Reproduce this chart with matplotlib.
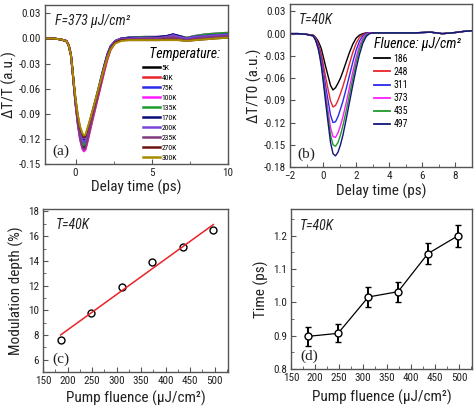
import matplotlib
matplotlib.use("Agg")
import matplotlib.pyplot as plt
import numpy as np
from matplotlib.ticker import MultipleLocator

plt.rcParams['font.family'] = ['Roboto Condensed', 'Liberation Sans', 'DejaVu Sans']

# ---------------- data ----------------
t_a = [-2, -1.5, -1, -0.6, -0.45, -0.3, -0.2, -0.1, 0, 0.15, 0.3, 0.45, 0.55, 0.65, 0.8, 0.95,
       1.1, 1.3, 1.5, 1.7, 1.9, 2.1, 2.3, 2.6, 3.0, 3.5, 4.5, 5.5, 6.0, 6.4, 6.8, 7.3, 7.8, 8.5, 9.2, 10]
temp_labels = ['5K', '40K', '75K', '100K', '135K', '170K', '200K', '235K', '270K', '300K']
temp_colors = ['#000000', '#e8232a', '#2a2ae8', '#ff1aff', '#1f9a2a', '#0a0a78', '#7a44d8',
               '#7e3a80', '#6a1410', '#a88a00']
dT_5K = [0.000, 0.000, -0.001, -0.003, -0.008, -0.020, -0.038, -0.058, -0.077, -0.100, -0.117, -0.127, -0.130, -0.128, -0.117, -0.106, -0.095, -0.081, -0.066, -0.051, -0.036, -0.022, -0.012, -0.004, -0.001, 0.000, 0.001, 0.001, 0.002, 0.003, 0.002, -0.001, 0.001, 0.003, 0.004, 0.005]
dT_40K = [0.000, 0.000, -0.001, -0.003, -0.007, -0.018, -0.036, -0.056, -0.076, -0.101, -0.119, -0.131, -0.134, -0.133, -0.123, -0.111, -0.099, -0.084, -0.069, -0.054, -0.039, -0.025, -0.014, -0.005, -0.001, 0.000, 0.001, 0.001, 0.002, 0.003, 0.002, -0.001, 0.002, 0.003, 0.004, 0.005]
dT_75K = [0.000, 0.000, -0.001, -0.003, -0.008, -0.020, -0.038, -0.057, -0.075, -0.097, -0.113, -0.122, -0.125, -0.123, -0.113, -0.102, -0.091, -0.077, -0.062, -0.047, -0.032, -0.019, -0.010, -0.003, 0.000, 0.001, 0.001, 0.002, 0.003, 0.005, 0.003, 0.000, 0.002, 0.004, 0.005, 0.006]
dT_100K = [0.000, 0.000, -0.001, -0.003, -0.008, -0.020, -0.039, -0.059, -0.079, -0.103, -0.121, -0.132, -0.135, -0.133, -0.121, -0.109, -0.097, -0.082, -0.067, -0.052, -0.037, -0.023, -0.012, -0.004, 0.000, 0.001, 0.002, 0.002, 0.003, 0.004, 0.003, 0.001, 0.003, 0.005, 0.006, 0.006]
dT_135K = [0.000, 0.000, -0.001, -0.003, -0.008, -0.020, -0.038, -0.057, -0.076, -0.098, -0.115, -0.125, -0.128, -0.126, -0.115, -0.104, -0.093, -0.079, -0.064, -0.049, -0.034, -0.021, -0.011, -0.003, 0.000, 0.001, 0.002, 0.002, 0.003, 0.004, 0.003, 0.001, 0.003, 0.005, 0.006, 0.007]
dT_170K = [0.000, 0.000, -0.001, -0.003, -0.008, -0.020, -0.037, -0.056, -0.074, -0.095, -0.110, -0.119, -0.122, -0.120, -0.110, -0.099, -0.088, -0.074, -0.060, -0.045, -0.031, -0.018, -0.009, -0.003, 0.000, 0.001, 0.001, 0.002, 0.003, 0.005, 0.003, 0.000, 0.002, 0.003, 0.004, 0.005]
dT_200K = [0.000, 0.000, -0.001, -0.003, -0.008, -0.020, -0.038, -0.057, -0.075, -0.096, -0.112, -0.121, -0.124, -0.122, -0.112, -0.101, -0.090, -0.076, -0.061, -0.046, -0.032, -0.019, -0.010, -0.003, 0.000, 0.000, 0.001, 0.001, 0.002, 0.004, 0.002, 0.000, 0.002, 0.003, 0.004, 0.005]
dT_235K = [0.000, 0.000, -0.001, -0.003, -0.008, -0.019, -0.037, -0.058, -0.078, -0.102, -0.120, -0.130, -0.133, -0.131, -0.120, -0.108, -0.096, -0.081, -0.066, -0.051, -0.036, -0.022, -0.012, -0.004, -0.001, -0.001, 0.000, 0.000, 0.001, 0.001, 0.000, -0.002, 0.000, 0.001, 0.002, 0.003]
dT_270K = [0.000, 0.000, -0.001, -0.003, -0.008, -0.020, -0.037, -0.055, -0.072, -0.092, -0.107, -0.115, -0.118, -0.117, -0.108, -0.098, -0.088, -0.075, -0.061, -0.047, -0.033, -0.021, -0.012, -0.005, -0.002, -0.002, -0.002, -0.002, -0.001, -0.001, -0.002, -0.003, -0.002, -0.001, 0.000, 0.001]
dT_300K = [0.000, 0.000, -0.001, -0.003, -0.008, -0.020, -0.037, -0.055, -0.071, -0.091, -0.105, -0.113, -0.116, -0.115, -0.106, -0.097, -0.087, -0.074, -0.060, -0.047, -0.034, -0.022, -0.013, -0.006, -0.003, -0.002, -0.002, -0.002, -0.002, -0.002, -0.002, -0.003, -0.002, -0.001, 0.000, 0.001]
series_a = [dT_5K, dT_40K, dT_75K, dT_100K, dT_135K, dT_170K, dT_200K, dT_235K, dT_270K, dT_300K]

t_b = [-2, -1.5, -1, -0.6, -0.45, -0.3, -0.2, -0.1, 0, 0.15, 0.3, 0.45, 0.6, 0.75, 0.9, 1.05, 1.2,
       1.4, 1.6, 1.8, 2.0, 2.2, 2.4, 2.6, 2.8, 3.0, 3.3, 3.7, 4.5, 5.5, 6.5, 7.2, 7.8, 8.5, 9.0]
fluence_labels = ['186', '248', '311', '373', '435', '497']
fluence_colors = ['#000000', '#e8232a', '#2a2ae8', '#ff1aff', '#1f9a2a', '#14147a']
dT0_186 = [0.000, 0.000, -0.001, -0.002, -0.005, -0.010, -0.015, -0.021, -0.030, -0.044, -0.057, -0.070, -0.076, -0.073, -0.067, -0.060, -0.051, -0.038, -0.025, -0.014, -0.006, -0.002, 0.000, 0.001, 0.001, 0.001, 0.001, 0.001, 0.001, 0.001, 0.002, 0.000, 0.001, 0.003, 0.004]
dT0_248 = [0.000, 0.000, -0.001, -0.002, -0.006, -0.013, -0.020, -0.028, -0.040, -0.058, -0.075, -0.091, -0.099, -0.097, -0.090, -0.081, -0.071, -0.056, -0.040, -0.025, -0.013, -0.005, -0.001, 0.000, 0.001, 0.001, 0.001, 0.001, 0.001, 0.001, 0.002, 0.000, 0.001, 0.003, 0.004]
dT0_311 = [0.000, 0.000, -0.001, -0.003, -0.007, -0.015, -0.024, -0.034, -0.048, -0.070, -0.090, -0.110, -0.120, -0.119, -0.112, -0.102, -0.091, -0.074, -0.056, -0.038, -0.022, -0.010, -0.003, 0.000, 0.001, 0.001, 0.001, 0.001, 0.001, 0.001, 0.002, 0.000, 0.001, 0.003, 0.004]
dT0_373 = [0.000, 0.000, -0.001, -0.003, -0.008, -0.017, -0.027, -0.039, -0.055, -0.080, -0.104, -0.127, -0.139, -0.140, -0.134, -0.124, -0.112, -0.093, -0.072, -0.051, -0.032, -0.016, -0.006, -0.001, 0.001, 0.001, 0.001, 0.001, 0.001, 0.001, 0.002, 0.000, 0.001, 0.003, 0.004]
dT0_435 = [0.000, 0.000, -0.001, -0.003, -0.009, -0.019, -0.029, -0.042, -0.059, -0.086, -0.112, -0.137, -0.150, -0.152, -0.147, -0.137, -0.124, -0.104, -0.082, -0.060, -0.039, -0.021, -0.009, -0.002, 0.000, 0.001, 0.001, 0.001, 0.001, 0.001, 0.002, 0.000, 0.001, 0.003, 0.004]
dT0_497 = [0.000, 0.000, -0.001, -0.003, -0.009, -0.020, -0.031, -0.045, -0.063, -0.092, -0.120, -0.147, -0.162, -0.165, -0.160, -0.150, -0.137, -0.115, -0.092, -0.069, -0.047, -0.028, -0.013, -0.004, 0.000, 0.001, 0.001, 0.001, 0.001, 0.001, 0.002, 0.000, 0.001, 0.003, 0.004]
series_b = [dT0_186, dT0_248, dT0_311, dT0_373, dT0_435, dT0_497]

pump_fluence = [186, 248, 311, 373, 435, 497]
modulation_depth = [7.6, 9.8, 11.9, 13.9, 15.15, 16.5]
recovery_time = [0.898, 0.907, 1.016, 1.032, 1.146, 1.199]
recovery_err = [0.028, 0.027, 0.030, 0.030, 0.032, 0.034]

# ---------------- layout ----------------
W, H = 474, 409
fig = plt.figure(figsize=(W / 100, H / 100), dpi=100)

def add_ax(l, t, r, b):
    return fig.add_axes([l / W, 1 - b / H, (r - l) / W, (b - t) / H])

SPINE = '#555555'
TXT = '#222222'

def style(ax):
    for s in ax.spines.values():
        s.set_color(SPINE)
        s.set_linewidth(1.0)
    ax.tick_params(which='both', direction='in', top=False, right=False,
                   colors=SPINE, labelcolor=TXT, labelsize=8)
    ax.tick_params(which='major', length=3.5, pad=3)
    ax.tick_params(which='minor', length=2)

lab_fs = 11
serif = ['Liberation Serif', 'DejaVu Serif']

# ---- (a) ----
ax = add_ax(45, 5, 228, 164)
for y, c, lab in zip(series_a, temp_colors, temp_labels):
    ax.plot(t_a, y, color=c, lw=1.4, label=lab)
ax.set_xlim(-2, 10)
ax.set_ylim(-0.15, 0.04)
ax.xaxis.set_major_locator(MultipleLocator(5))
ax.xaxis.set_minor_locator(MultipleLocator(2.5))
ax.set_yticks([-0.15, -0.12, -0.09, -0.06, -0.03, 0.00, 0.03])
ax.set_yticklabels(['-0.15', '-0.12', '-0.09', '-0.06', '-0.03', '0.00', '0.03'])
style(ax)
ax.set_xlabel('Delay time (ps)', fontsize=lab_fs, color=TXT, labelpad=1)
ax.set_ylabel('ΔT/T (a.u.)', fontsize=lab_fs, color=TXT, labelpad=1)
ax.text(0.055, 0.945, 'F=373 µJ/cm²', transform=ax.transAxes, fontsize=10,
        style='italic', va='top', ha='left', color=TXT)
ax.text(0.04, 0.035, '(a)', transform=ax.transAxes, fontsize=11, family=serif,
        va='bottom', ha='left', color=TXT)
leg = ax.legend(loc='upper left', bbox_to_anchor=(0.535, 0.735), frameon=False,
                fontsize=5.5, handlelength=2.2, handletextpad=0.25,
                labelspacing=0.47, borderaxespad=0, borderpad=0,
                title='  Temperature:', title_fontproperties={'size': 10, 'style': 'italic'})
leg._legend_box.align = 'left'
for ln in leg.get_lines():
    ln.set_linewidth(1.8)

# ---- (b) ----
ax = add_ax(290, 4, 472, 167)
for y, c, lab in zip(series_b, fluence_colors, fluence_labels):
    ax.plot(t_b, y, color=c, lw=1.0, label=lab)
ax.set_xlim(-2, 9)
ax.set_ylim(-0.18, 0.04)
ax.xaxis.set_major_locator(MultipleLocator(2))
ax.xaxis.set_minor_locator(MultipleLocator(1))
ax.set_yticks([-0.18, -0.15, -0.12, -0.09, -0.06, -0.03, 0.00, 0.03])
ax.set_yticklabels(['-0.18', '-0.15', '-0.12', '-0.09', '-0.06', '-0.03', '0.00', '0.03'])
style(ax)
ax.set_xlabel('Delay time (ps)', fontsize=lab_fs, color=TXT, labelpad=2)
ax.set_ylabel('ΔT/T0 (a.u.)', fontsize=lab_fs, color=TXT, labelpad=1)
ax.text(0.05, 0.945, 'T=40K', transform=ax.transAxes, fontsize=10,
        style='italic', va='top', ha='left', color=TXT)
ax.text(0.04, 0.035, '(b)', transform=ax.transAxes, fontsize=11, family=serif,
        va='bottom', ha='left', color=TXT)
leg = ax.legend(loc='upper left', bbox_to_anchor=(0.46, 0.80), frameon=False,
                fontsize=7, handlelength=1.7, handletextpad=0.35,
                labelspacing=0.32, borderaxespad=0, borderpad=0,
                title='Fluence: µJ/cm²', title_fontproperties={'size': 10, 'style': 'italic'})
leg._legend_box.align = 'left'
for ln in leg.get_lines():
    ln.set_linewidth(1.3)

# ---- (c) ----
ax = add_ax(43, 209, 228, 372)
ax.plot(pump_fluence, modulation_depth, 'o', mfc='none', mec='black', ms=5, mew=1.0)
coef = np.polyfit(pump_fluence, modulation_depth, 1)
xf = np.array([min(pump_fluence), max(pump_fluence)])
ax.plot(xf, np.polyval(coef, xf), color='#e8232a', lw=1.1)
ax.set_xlim(150, 527)
ax.set_ylim(5, 18.2)
ax.xaxis.set_major_locator(MultipleLocator(50))
ax.xaxis.set_minor_locator(MultipleLocator(25))
ax.yaxis.set_minor_locator(MultipleLocator(1))
ax.set_yticks([6, 8, 10, 12, 14, 16, 18])
style(ax)
ax.set_xlabel('Pump fluence (µJ/cm²)', fontsize=lab_fs, color=TXT, labelpad=3)
ax.set_ylabel('Modulation depth (%)', fontsize=lab_fs, color=TXT, labelpad=3)
ax.text(0.07, 0.945, 'T=40K', transform=ax.transAxes, fontsize=10,
        style='italic', va='top', ha='left', color=TXT)
ax.text(0.05, 0.035, '(c)', transform=ax.transAxes, fontsize=11, family=serif,
        va='bottom', ha='left', color=TXT)

# ---- (d) ----
ax = add_ax(291, 209, 472, 369)
ax.errorbar(pump_fluence, recovery_time, yerr=recovery_err, fmt='-o', color='black',
            lw=0.9, elinewidth=1.4, capsize=2, capthick=1.2, ms=5, mfc='white',
            mec='black', mew=1.0)
ax.set_xlim(150, 527)
ax.set_ylim(0.8, 1.28)
ax.xaxis.set_major_locator(MultipleLocator(50))
ax.xaxis.set_minor_locator(MultipleLocator(25))
ax.set_yticks([0.8, 0.9, 1.0, 1.1, 1.2])
ax.yaxis.set_minor_locator(MultipleLocator(0.05))
style(ax)
ax.set_xlabel('Pump fluence (µJ/cm²)', fontsize=lab_fs, color=TXT, labelpad=5)
ax.set_ylabel('Time (ps)', fontsize=lab_fs, color=TXT, labelpad=3)
ax.text(0.05, 0.935, 'T=40K', transform=ax.transAxes, fontsize=10,
        style='italic', va='top', ha='left', color=TXT)
ax.text(0.05, 0.035, '(d)', transform=ax.transAxes, fontsize=11, family=serif,
        va='bottom', ha='left', color=TXT)

fig.savefig('out.png', dpi=100)
